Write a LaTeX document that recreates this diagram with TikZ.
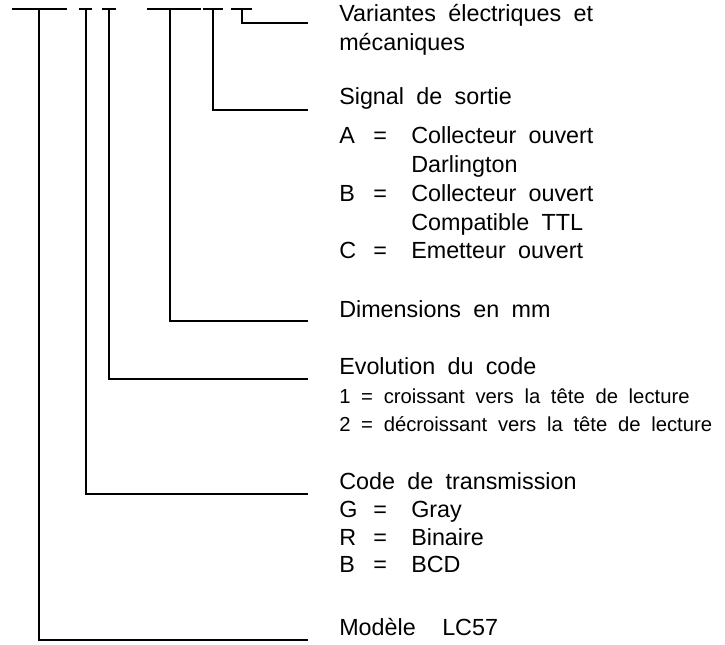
\documentclass[tikz,border=0pt]{standalone}
\usepackage{fontspec}
\setmainfont{Liberation Sans}[WordSpace=1.9]
\usepackage{tikz}
\usetikzlibrary{positioning}

\newcommand{\maintxt}{\fontsize{17.5}{21}\selectfont}
\newcommand{\smalltxt}{\fontsize{15.2}{18}\selectfont}

\tikzset{
  leader/.style={line width=0.9pt, line cap=rect},
  lbl/.style={anchor=base west, inner sep=0pt, font=\maintxt},
  sublbl/.style={anchor=base west, inner sep=0pt, font=\smalltxt}
}

\begin{document}
\begin{tikzpicture}[x=0.75pt, y=-0.75pt]
  \useasboundingbox (0,0) rectangle (725,644);

  % Code key: tick marks on top
  \coordinate (t1) at (39,9);  \coordinate (t2) at (86,9);  \coordinate (t3) at (109,9);
  \coordinate (t4) at (170,9); \coordinate (t5) at (213,9); \coordinate (t6) at (242,9);
  \draw[leader] (13,9) -- (66,9)   (80,9) -- (91,9)   (103,9) -- (115,9)
                (148,9) -- (200,9) (204,9) -- (222,9) (232,9) -- (251,9);

  % Labels
  \node[lbl] (var) at (339,21) {Variantes électriques et};
  \node[lbl] (mec) at (339,50) {mécaniques};
  \node[lbl] (sig) at (339,104) {Signal de sortie};
  \foreach \k/\y in {A/143, B/201, C/258} {
    \node[lbl] (k\k) at (339,\y) {\k};
    \node[lbl] (eq\k) at (373,\y) {=};
  }
  \node[lbl] (vA) at (411,143) {Collecteur ouvert};
  \node[lbl] (wA) at (411,172) {Darlington};
  \node[lbl] (vB) at (411,201) {Collecteur ouvert};
  \node[lbl] (wB) at (411,230) {Compatible TTL};
  \node[lbl] (vC) at (411,258) {Emetteur ouvert};
  \node[lbl] (dim) at (339,317) {Dimensions en mm};
  \node[lbl] (evo) at (339,374) {Evolution du code};
  \node[sublbl] (evo1) at (339,403) {1 = croissant vers la tête de lecture};
  \node[sublbl] (evo2) at (339,431) {2 = décroissant vers la tête de lecture};
  \node[lbl] (code) at (339,489) {Code de transmission};
  \foreach \k/\v/\y [count=\i] in {G/Gray/517, R/Binaire/545, B/BCD/572} {
    \node[lbl] (c\i) at (339,\y) {\k};
    \node[lbl] (ceq\i) at (373,\y) {=};
    \node[lbl] (cv\i) at (411,\y) {\v};
  }
  \node[lbl] (mod) at (339,635) {Modèle};
  \node[lbl] (lc) at (442,635) {LC57};

  % Leaders
  \coordinate (e6) at (307,23);  \coordinate (e5) at (307,110);
  \coordinate (e4) at (307,321); \coordinate (e3) at (307,379);
  \coordinate (e2) at (307,494); \coordinate (e1) at (307,640);
  \foreach \i in {1,...,6}
    \draw[leader] (t\i) |- (e\i);
\end{tikzpicture}
\end{document}
